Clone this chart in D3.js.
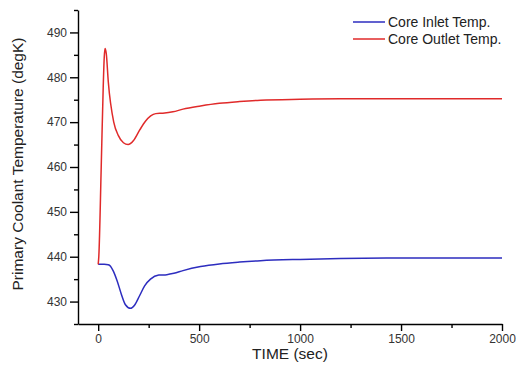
<!DOCTYPE html>
<html>
<head>
<meta charset="utf-8">
<script src="https://cdn.jsdelivr.net/npm/d3@7"></script>
<style>
  body { margin: 0; background: #fff; }
  svg { font-family: "Liberation Sans", Arial, sans-serif; }
  .axis path, .axis line { stroke: #000; stroke-width: 1.4; }
  .axis text { fill: #333; font-size: 12px; }
</style>
</head>
<body>
<svg id="chart" width="516" height="375"></svg>
<script>
// time (sec) and temperatures (degK)
const outletTime = [0, 3, 15, 25, 30, 34, 40, 50, 77, 100, 125, 148, 175, 205, 234, 260, 285, 320, 370, 420, 507, 600, 700, 804, 1000, 1200, 1500, 2000];
const outletTemp = [438.3, 440, 460, 478, 484.5, 486.4, 485.3, 479, 470, 467, 465.4, 465.0, 465.9, 468.2, 470.2, 471.4, 471.9, 472.0, 472.3, 472.9, 473.6, 474.2, 474.6, 474.9, 475.1, 475.2, 475.2, 475.2];

const inletTime = [0, 30, 50, 61, 75, 94, 115, 135, 160, 180, 205, 230, 259, 300, 340, 375, 420, 507, 600, 700, 804, 1000, 1200, 1500, 2000];
const inletTemp = [438.3, 438.3, 438.2, 437.9, 436.8, 434.6, 431.6, 429.3, 428.5, 429.2, 431.3, 433.5, 435.0, 435.9, 436.0, 436.3, 436.9, 437.8, 438.4, 438.8, 439.1, 439.4, 439.6, 439.7, 439.7];

const xTicks = [0, 500, 1000, 1500, 2000];
const yTicks = [430, 440, 450, 460, 470, 480, 490];
const seriesNames = ["Core Inlet Temp.", "Core Outlet Temp."];
const seriesColors = ["#2d2dbf", "#e02a2a"];

const svg = d3.select("#chart");
const margin = {top: 10, right: 14, bottom: 51, left: 78};
const width = 516 - margin.left - margin.right;
const height = 375 - margin.top - margin.bottom;

const x = d3.scaleLinear().domain([-100, 2000]).range([0, width]);
const y = d3.scaleLinear().domain([425, 495]).range([height, 0]);

const g = svg.append("g").attr("transform", `translate(${margin.left},${margin.top})`);

// minor ticks first, then the major axes on top
g.append("g").attr("class", "axis")
    .attr("transform", `translate(0,${height})`)
    .call(d3.axisBottom(x).tickValues(d3.range(250, 2000, 500)).tickSize(4).tickFormat(""))
    .select(".domain").remove();
g.append("g").attr("class", "axis")
    .call(d3.axisLeft(y).tickValues(d3.range(425, 496, 10)).tickSize(4).tickFormat(""))
    .select(".domain").remove();

g.append("g").attr("class", "axis")
    .attr("transform", `translate(0,${height})`)
    .call(d3.axisBottom(x).tickValues(xTicks).tickFormat(d3.format("d"))
        .tickSize(7).tickSizeOuter(0).tickPadding(3));
g.append("g").attr("class", "axis")
    .call(d3.axisLeft(y).tickValues(yTicks).tickFormat(d3.format("d"))
        .tickSize(8).tickSizeOuter(0).tickPadding(3));

const line = d3.line()
    .x(d => x(d[0]))
    .y(d => y(d[1]))
    .curve(d3.curveMonotoneX);

const series = [
    d3.zip(inletTime, inletTemp),
    d3.zip(outletTime, outletTemp)
];

g.selectAll("path.series")
    .data(series).enter()
    .append("path").attr("class", "series")
    .attr("d", line)
    .attr("fill", "none")
    .attr("stroke", (d, i) => seriesColors[i])
    .attr("stroke-width", 1.5);

// legend
const legend = svg.append("g").attr("transform", "translate(353,22)");
seriesNames.forEach(function(name, i) {
    const row = legend.append("g").attr("transform", `translate(0,${i * 17})`);
    row.append("line").attr("x1", 0).attr("x2", 32)
        .attr("stroke", seriesColors[i]).attr("stroke-width", 1.5);
    row.append("text").attr("x", 35).attr("y", 5)
        .attr("font-size", 14).attr("fill", "#222").text(name);
});

// axis titles
svg.append("text")
    .attr("x", margin.left + width / 2).attr("y", 359)
    .attr("text-anchor", "middle").attr("font-size", 15.5).attr("fill", "#222")
    .text("TIME (sec)");
svg.append("text")
    .attr("transform", "translate(23,164) rotate(-90)")
    .attr("text-anchor", "middle").attr("font-size", 15.5).attr("fill", "#222")
    .text("Primary Coolant Temperature (degK)");
</script>
</body>
</html>
